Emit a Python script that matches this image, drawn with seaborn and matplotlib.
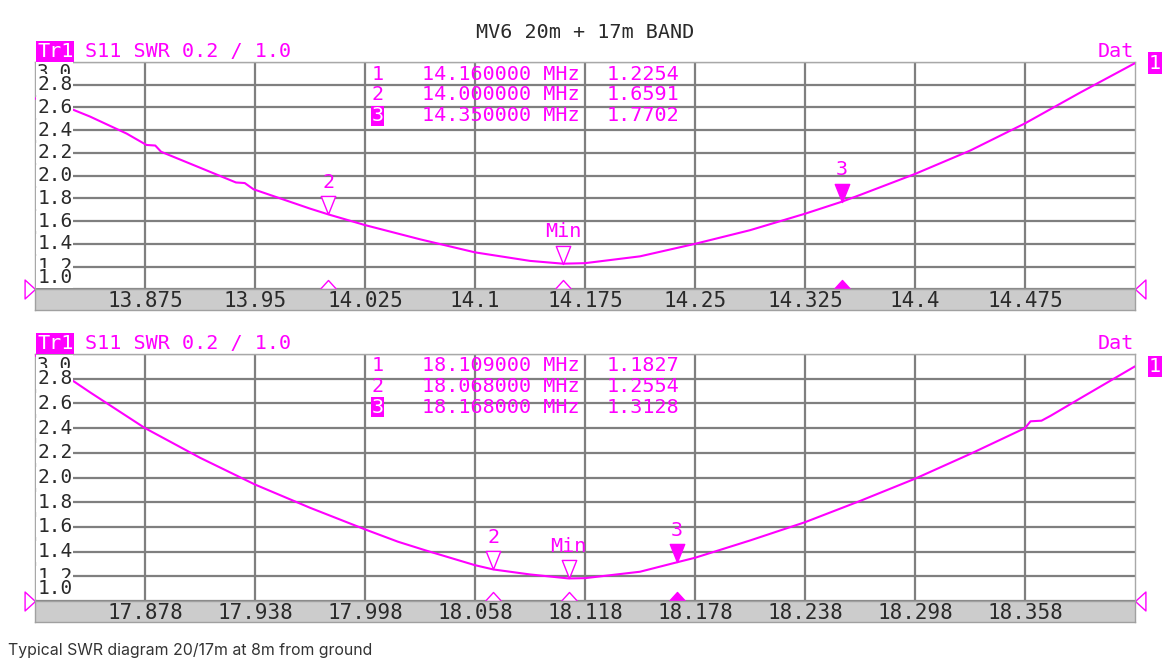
import matplotlib
matplotlib.use("Agg")
import matplotlib.pyplot as plt
import seaborn as sns
import pandas as pd
from matplotlib.path import Path

# 20m band sweep
freq_20 = [13.8, 13.826, 13.8375, 13.8625, 13.876, 13.882, 13.886, 13.9125, 13.937, 13.943, 13.949,
           13.9875, 14.0, 14.025, 14.0625, 14.1, 14.1375, 14.16, 14.175, 14.2125, 14.25,
           14.2875, 14.325, 14.35, 14.3625, 14.4, 14.4375, 14.475, 14.5125, 14.55]
swr_20 = [2.68, 2.58, 2.52, 2.37, 2.27, 2.265, 2.21, 2.07, 1.94, 1.935, 1.88,
          1.71, 1.6591, 1.565, 1.44, 1.325, 1.25, 1.2254, 1.23, 1.29, 1.40,
          1.52, 1.665, 1.7702, 1.83, 2.015, 2.22, 2.46, 2.73, 2.99]
ticks_20 = ["13.875", "13.95", "14.025", "14.1", "14.175", "14.25", "14.325", "14.4", "14.475"]
span_20 = [13.8, 14.55]
mk_freq_20 = [14.16, 14.0, 14.35]
mk_swr_20 = [1.2254, 1.6591, 1.7702]

# 17m band sweep
freq_17 = [17.818, 17.839, 17.848, 17.878, 17.908, 17.938, 17.968, 17.998, 18.016, 18.031,
           18.058, 18.068, 18.088, 18.109, 18.118, 18.148, 18.168, 18.178, 18.208, 18.238,
           18.268, 18.298, 18.328, 18.358, 18.361, 18.367, 18.372, 18.388, 18.418]
swr_17 = [2.99, 2.78, 2.69, 2.40, 2.16, 1.943, 1.755, 1.58, 1.48, 1.41,
          1.29, 1.2554, 1.215, 1.1827, 1.185, 1.237, 1.3128, 1.35, 1.49, 1.638,
          1.81, 1.99, 2.19, 2.40, 2.455, 2.46, 2.50, 2.64, 2.90]
ticks_17 = ["17.878", "17.938", "17.998", "18.058", "18.118", "18.178", "18.238", "18.298", "18.358"]
span_17 = [17.818, 18.418]
mk_freq_17 = [18.109, 18.068, 18.168]
mk_swr_17 = [1.1827, 1.2554, 1.3128]

mk_names = ["Min", "2", "3"]
mk_rows = ["1", "2", "3"]
swr_grid = [1.0, 1.2, 1.4, 1.6, 1.8, 2.0, 2.2, 2.4, 2.6, 2.8, 3.0]

title = "MV6 20m + 17m BAND"
header = "S11 SWR 0.2 / 1.0"
caption = "Typical SWR diagram 20/17m at 8m from ground"

MAG = "#ff00ff"
GRID = "#7f7f7f"
TXT = "#2a2a2a"
FS = 14.5

sns.set_theme(style="white")
plt.rcParams["font.family"] = ["DejaVu Sans Mono", "DejaVu Sans"]

fig = plt.figure(figsize=(11.66, 6.7), dpi=100)


def tri(verts):
    return Path(verts + [verts[0]], [Path.MOVETO] + [Path.LINETO] * (len(verts) - 1) + [Path.CLOSEPOLY])


down_tip = tri([(0, 0), (-0.4, 1), (0.4, 1)])
up_base = tri([(-1, 0), (1, 0), (0, 1.1)])
right_tip = tri([(0, 0), (-1.1, 1), (-1.1, -1)])
left_tip = tri([(0, 0), (1.1, 1), (1.1, -1)])


def panel(rect, band_rect, freq, swr, ticks, span, mk_f, mk_s, rows_y):
    ax = fig.add_axes(rect)
    band = fig.add_axes(band_rect)

    df = pd.DataFrame({"freq": freq, "swr": swr})
    sns.lineplot(data=df, x="freq", y="swr", ax=ax, color=MAG, lw=1.5, estimator=None, zorder=3)

    tick_pos = [float(t) for t in ticks]
    ax.set_xlim(span)
    ax.set_ylim(swr_grid[0], swr_grid[-1])
    ax.set_xticks(tick_pos)
    ax.set_yticks(swr_grid)
    ax.grid(True, color=GRID, lw=1.6)
    ax.set_axisbelow(True)
    ax.tick_params(length=0, labelleft=False, labelbottom=False)
    ax.set_xlabel("")
    ax.set_ylabel("")
    for s in ax.spines.values():
        s.set_color("#a8a8a8")
        s.set_linewidth(1.0)

    # y labels drawn inside the grid, on white boxes (they overlap at both ends, as on the analyser)
    ytr = ax.get_yaxis_transform()
    order = [3.0, 2.8, 2.6, 2.4, 2.2, 2.0, 1.8, 1.6, 1.4, 1.2, 1.0]
    for i, v in enumerate(order):
        ypos = v
        if v == 3.0:
            ypos = 2.91
        if v == 1.0:
            ypos = 1.1
        ax.text(0.002, ypos, f"{v:.1f}", transform=ytr, ha="left", va="center",
                fontsize=14, color=TXT, zorder=6 + i, clip_on=True,
                bbox=dict(facecolor="white", edgecolor="none", pad=0.6))

    # gray frequency band
    band.set_xlim(span)
    band.set_ylim(0, 1)
    band.set_facecolor("#cccccc")
    band.set_xticks([])
    band.set_yticks([])
    for s in band.spines.values():
        s.set_color("#a0a0a0")
        s.set_linewidth(1.0)
    for t, p in zip(ticks, tick_pos):
        band.text(p, 0.45, t, ha="center", va="center", fontsize=15, color=TXT)

    # markers on the trace
    for i, (f, s, name) in enumerate(zip(mk_f, mk_s, mk_names)):
        face = MAG if i == 2 else "white"
        ax.plot([f], [s], marker=down_tip, ms=26, mfc=face, mec=MAG, mew=1.0, ls="none", zorder=5)
        ax.annotate(name, xy=(f, s), xytext=(0, 23), textcoords="offset points",
                    ha="center", va="center", color=MAG, fontsize=FS, zorder=5)
        ax.plot([f], [swr_grid[0]], marker=up_base, ms=13, mfc=face, mec=MAG, mew=1.0,
                ls="none", zorder=5, clip_on=False)

    # reference position arrows
    ax.plot([span[0]], [swr_grid[0]], marker=right_tip, ms=15, mfc="none", mec=MAG, mew=1.0,
            ls="none", clip_on=False)
    ax.plot([span[1]], [swr_grid[0]], marker=left_tip, ms=15, mfc="none", mec=MAG, mew=1.0,
            ls="none", clip_on=False)

    # marker table
    for i, (r, f, s) in enumerate(zip(mk_rows, mk_f, mk_s)):
        y = rows_y[i]
        if i == 2:
            ax.text(0.306, y, r, transform=ax.transAxes, ha="left", va="center", fontsize=FS,
                    color="white", bbox=dict(facecolor=MAG, edgecolor="none", pad=0.3))
        else:
            ax.text(0.306, y, r, transform=ax.transAxes, ha="left", va="center", fontsize=FS, color=MAG)
        ax.text(0.4955, y, f"{f:.6f} MHz", transform=ax.transAxes, ha="right", va="center",
                fontsize=FS, color=MAG)
        ax.text(0.586, y, f"{s:.4f}", transform=ax.transAxes, ha="right", va="center",
                fontsize=FS, color=MAG)

    # header line
    ax.annotate("Tr1", xy=(0, 1), xycoords="axes fraction", xytext=(1.5, 7.5),
                textcoords="offset points", ha="left", va="center", fontsize=FS, color="white",
                bbox=dict(facecolor=MAG, edgecolor="none", pad=0.6))
    ax.annotate(header, xy=(0, 1), xycoords="axes fraction", xytext=(36, 7.5),
                textcoords="offset points", ha="left", va="center", fontsize=FS, color=MAG)
    ax.annotate("Dat", xy=(1, 1), xycoords="axes fraction", xytext=(-1, 7.5),
                textcoords="offset points", ha="right", va="center", fontsize=FS, color=MAG)

    # trace end indicator
    ax.text(1.018, swr[-1], "1", transform=ax.get_yaxis_transform(), ha="center", va="center",
            fontsize=FS, color="white", clip_on=False,
            bbox=dict(facecolor=MAG, edgecolor="none", pad=0.8))
    return ax


W, H = 1166, 670
left = 35 / W
width = 1100 / W

panel([left, 1 - 289.3 / H, width, 227.3 / H], [left, 1 - 310 / H, width, 20.7 / H],
      freq_20, swr_20, ticks_20, span_20, mk_freq_20, mk_swr_20, [0.947, 0.855, 0.763])
panel([left, 1 - 601 / H, width, 247 / H], [left, 1 - 622 / H, width, 21 / H],
      freq_17, swr_17, ticks_17, span_17, mk_freq_17, mk_swr_17, [0.955, 0.870, 0.785])

fig.text(585 / W, 1 - 32 / H, title, ha="center", va="center", fontsize=FS, color=TXT)
fig.text(8 / W, 1 - 650 / H, caption, ha="left", va="center", fontsize=11.4, color="#333333",
         family=["Inter", "DejaVu Sans"])

fig.savefig("out.png", dpi=100)
